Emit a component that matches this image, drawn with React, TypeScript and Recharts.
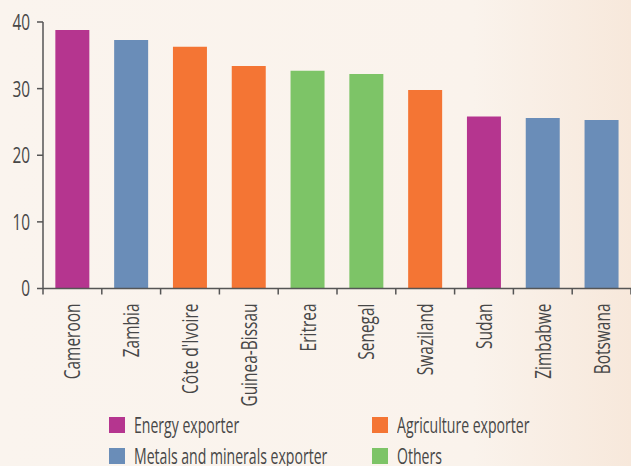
import { BarChart, Bar, XAxis, YAxis, Cell } from 'recharts'

const countries = [
  'Cameroon',
  'Zambia',
  "Côte d'Ivoire",
  'Guinea-Bissau',
  'Eritrea',
  'Senegal',
  'Swaziland',
  'Sudan',
  'Zimbabwe',
  'Botswana',
]
const shares = [38.8, 37.3, 36.3, 33.4, 32.7, 32.2, 29.8, 25.8, 25.6, 25.3]
const groups = [
  'energy',
  'metals',
  'agriculture',
  'agriculture',
  'others',
  'others',
  'agriculture',
  'energy',
  'metals',
  'metals',
]
const yTicks = [0, 10, 20, 30, 40]

const groupColors: Record<string, string> = {
  energy: '#b5358f',
  metals: '#6a8db8',
  agriculture: '#f47534',
  others: '#7dc467',
}

const legendItems = [
  { key: 'energy', label: 'Energy exporter' },
  { key: 'agriculture', label: 'Agriculture exporter' },
  { key: 'metals', label: 'Metals and minerals exporter' },
  { key: 'others', label: 'Others' },
]

const data = countries.map((name, i) => ({ name, value: shares[i], group: groups[i] }))

// no condensed face installed, so squeeze a humanist sans horizontally
const FONT = '"Open Sans", "DejaVu Sans", sans-serif'
const SQUEEZE = 0.7
const AXIS = '#555555'
const TEXT = '#474747'

function CountryTick(props: any) {
  const { x, y, payload, index } = props
  const half = payload?.offset || 29.4
  return (
    <g>
      <line x1={x - half} x2={x - half} y1={y} y2={y + 6} stroke={AXIS} strokeWidth={1.5} />
      {index === countries.length - 1 && (
        <line x1={x + half} x2={x + half} y1={y} y2={y + 6} stroke={AXIS} strokeWidth={1.5} />
      )}
      <text
        transform={`translate(${x + 8},${y + 15}) rotate(-90) scale(0.72,1)`}
        textAnchor="end"
        fill={TEXT}
        fontSize={21.5}
        fontFamily={FONT}
      >
        {payload.value}
      </text>
    </g>
  )
}

function ValueTick(props: any) {
  const { x, y, payload } = props
  return (
    <text
      transform={`translate(${x},${y}) scale(${SQUEEZE},1)`}
      textAnchor="end"
      dy="0.36em"
      fill={TEXT}
      fontSize={22}
      fontFamily={FONT}
    >
      {payload.value}
    </text>
  )
}

export default function App() {
  return (
    <div
      style={{
        position: 'absolute',
        left: 0,
        top: 0,
        width: 631,
        height: 466,
        overflow: 'hidden',
        background: 'linear-gradient(90deg, #faf4ee 0%, #faf3ec 75%, #f7e8db 100%)',
        fontFamily: FONT,
      }}
    >
      <BarChart
        width={631}
        height={466}
        data={data}
        margin={{ top: 22, right: 0, left: 0, bottom: 0 }}
        barCategoryGap="21%"
      >
        <XAxis
          dataKey="name"
          interval={0}
          height={177.5}
          axisLine={{ stroke: AXIS, strokeWidth: 1.5 }}
          tickLine={false}
          tickSize={0}
          tickMargin={0}
          tick={<CountryTick />}
        />
        <YAxis
          width={43}
          domain={[0, 40]}
          ticks={yTicks}
          axisLine={{ stroke: AXIS, strokeWidth: 1.5 }}
          tickLine={{ stroke: AXIS, strokeWidth: 1.5 }}
          tickSize={6}
          tickMargin={7}
          tick={<ValueTick />}
        />
        <Bar dataKey="value" isAnimationActive={false}>
          {data.map((d) => (
            <Cell key={d.name} fill={groupColors[d.group]} />
          ))}
        </Bar>
      </BarChart>
      <div
        style={{
          position: 'absolute',
          left: 109,
          top: 414,
          display: 'grid',
          gridTemplateColumns: '263px auto',
          rowGap: 9,
          color: TEXT,
          fontSize: 21,
          lineHeight: '22px',
        }}
      >
        {legendItems.map((item) => (
          <div key={item.key} style={{ display: 'flex', alignItems: 'center', gap: 9, whiteSpace: 'nowrap' }}>
            <span style={{ width: 16, height: 16, flex: 'none', background: groupColors[item.key], display: 'inline-block' }} />
            <span style={{ display: 'inline-block', transform: 'scaleX(0.67)', transformOrigin: 'left center' }}>
              {item.label}
            </span>
          </div>
        ))}
      </div>
    </div>
  )
}
